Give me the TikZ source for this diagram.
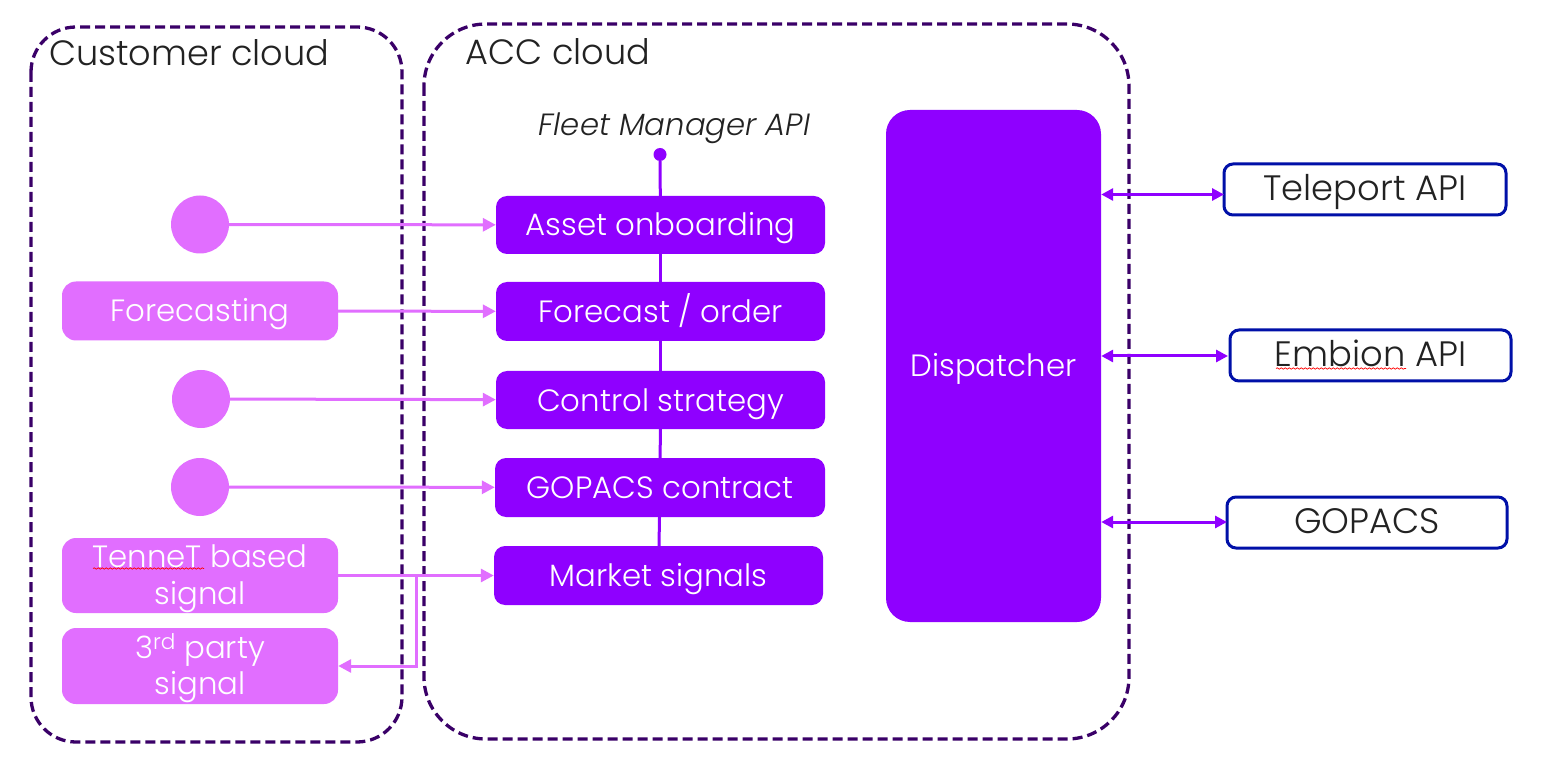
\documentclass[tikz,border=0pt]{standalone}
\usepackage{fontspec}
\setmainfont{Poppins Light}[ItalicFont={Poppins Light Italic},BoldFont={Poppins}]
\usetikzlibrary{arrows.meta,decorations.pathmorphing}
\definecolor{vio}{HTML}{8F00FF}
\definecolor{pnk}{HTML}{E16EFF}
\definecolor{dsh}{HTML}{3A0068}
\definecolor{blu}{HTML}{0010A8}
\definecolor{ink}{HTML}{222222}
\tikzset{
 x=1pt,y=-1pt,
 sized/.style 2 args={minimum width=#1pt,minimum height=#2pt},
 oneline/.style={text height=30pt,text depth=8pt},
 cloud/.style={draw=dsh,line width=3.3pt,dash pattern=on 10pt off 5pt,rounded corners=#1},
 cloud/.default=45pt,
 box/.style={rounded corners=11pt,inner sep=0pt,text=white,font=\fontsize{30.8}{36.6}\selectfont,align=center},
 vbox/.style={box,fill=vio,oneline},
 pbox/.style={box,fill=pnk,rounded corners=14pt},
 dotp/.style={circle,fill=pnk,inner sep=0pt,minimum size=58pt},
 api/.style={draw=blu,line width=3pt,fill=white,rounded corners=9pt,inner sep=0pt,text=ink,font=\fontsize{35.3}{40}\selectfont,text height=32pt,text depth=10pt},
 plink/.style={draw=pnk,line width=3pt,-{Triangle[length=13pt,width=13pt]}},
 vlink/.style={draw=vio,line width=3pt,{Triangle[length=12pt,width=12pt]}-{Triangle[length=12pt,width=12pt]}},
 spine/.style={draw=vio,line width=3pt},
 title/.style={inner sep=0pt,text=ink,font=\fontsize{35.1}{40}\selectfont,anchor=west},
 squig/.style={draw=red,line width=.7pt,decorate,decoration={snake,amplitude=.7pt,segment length=4pt}},
}
\begin{document}
\begin{tikzpicture}
\useasboundingbox (0,0) rectangle (1550,783);
\path[fill=white] (0,0) rectangle (1550,783);
% clouds
\draw[cloud=45pt] (31,27) rectangle (402,742);
\draw[cloud=62pt] (424,24) rectangle (1129,739);
\node[title] (tcust) at (49,53) {Customer cloud};
\node[title] (tacc) at (465.5,52) {ACC cloud};
% API label
\node[inner sep=0pt,text=ink,oneline,font=\fontsize{30.7}{36}\selectfont\itshape] (fm) at (674.5,125) {Fleet Manager API};
\node[circle,fill=vio,inner sep=0pt,minimum size=13pt] (apidot) at (660,154.5) {};
% purple stack
\node[vbox,sized={329}{58}] (asset) at (660.5,225) {Asset onboarding};
\node[vbox,sized={329}{59}] (order) at (660.5,311.5) {Forecast / order};
\node[vbox,sized={329}{58}] (ctrl) at (660.5,400) {Control strategy};
\node[vbox,sized={330}{59}] (gop) at (660,487.5) {GOPACS contract};
\node[vbox,sized={329}{59}] (mkt) at (658.5,575.5) {Market signals};
\draw[spine] (apidot) -- (asset);
\draw[spine] (asset) -- (order);
\draw[spine] (order) -- (ctrl);
\draw[spine] (ctrl) -- (gop);
\draw[spine] (gop) -- (mkt);
% dispatcher
\node[vbox,rounded corners=24pt,sized={215}{512}] (disp) at (993.5,366) {Dispatcher};
% customer side
\node[dotp] (c1) at (200,224.5) {};
\node[pbox,oneline,sized={276}{59}] (fc) at (200,311) {Forecasting};
\node[dotp] (c2) at (201,399) {};
\node[dotp] (c3) at (200,487) {};
\node[pbox,sized={276}{75}] (ten) at (200,575.5) {\rule{0pt}{29pt}TenneT based\\signal};
\node[pbox,sized={276}{76}] (thd) at (200,666) {\rule{0pt}{29pt}3\textsuperscript{rd} party\\signal};
\draw[squig] (93,568.5) -- (204,568.5);
\draw[plink] (c1) -- (asset);
\draw[plink] (fc) -- (order);
\draw[plink] (c2) -- (ctrl);
\draw[plink] (c3) -- (gop);
\draw[plink] (ten) -- (mkt);
\coordinate (jn) at (416,575.5);
\draw[plink] (jn) |- (thd.east);
% external APIs
\node[api,sized={282}{51}] (tel) at (1365,189.5) {Teleport API};
\node[api,sized={281}{51}] (emb) at (1370.5,355.5) {Embion API};
\node[api,sized={280}{51}] (gpc) at (1367,522.5) {GOPACS};
\draw[squig] (1276,368.5) -- (1406,368.5);
\coordinate (a1) at (1224,194.5);
\coordinate (a2) at (1228,356);
\coordinate (a3) at (1227,522);
\draw[vlink] (disp.east |- a1) -- (a1);
\draw[vlink] (disp.east |- a2) -- (a2);
\draw[vlink] (disp.east |- a3) -- (a3);
\end{tikzpicture}
\end{document}
